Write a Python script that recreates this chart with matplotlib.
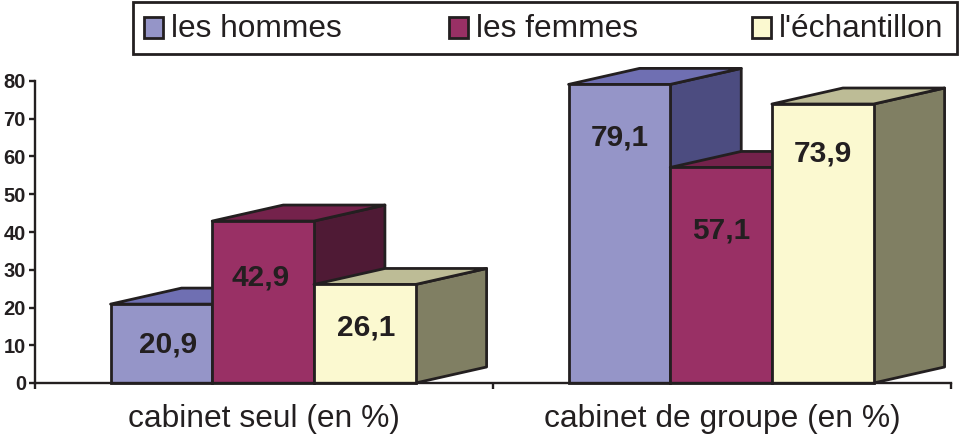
import matplotlib
matplotlib.use("Agg")
import matplotlib.pyplot as plt
from matplotlib.patches import Rectangle

plt.rcParams['font.family'] = ['Liberation Sans', 'DejaVu Sans']

# data
groups = ["cabinet seul (en %)", "cabinet de groupe (en %)"]
series = ["les hommes", "les femmes", "l'échantillon"]
hommes = [20.9, 79.1]
femmes = [42.9, 57.1]
echantillon = [26.1, 73.9]
y_ticks = [0, 10, 20, 30, 40, 50, 60, 70, 80]

# colours: front, top, side
colours = [("#9595C8", "#6F6FB2", "#4C4C80"),
           ("#993065", "#74224B", "#4F1A35"),
           ("#FBF9D0", "#BDBC96", "#807F63")]
INK = "#231F20"

W, H = 961, 434
BAR_W = 0.222
DX = 0.155     # depth of the fake 3d, x units
DY = 4.24      # depth of the fake 3d, y units
LW = 2.0
# where the value label sits relative to the bar top / bar centre, in pixels
label_drop = [[40, 56, 43], [53, 63, 49]]
label_shift = [[6, -3, 1], [-1, -1, -1]]
# legend swatch left edges, in pixels from the left of the figure
legend_x = [144, 449, 752]

fig = plt.figure(figsize=(W / 100, H / 100), dpi=100)
ax = fig.add_axes([35 / W, (H - 383) / H, 916 / W, 302 / H])
ax.set_xlim(-0.5, 1.5)
ax.set_ylim(0, 80)

z = 3
for g in range(len(groups)):
    for s, vals in enumerate([hommes, femmes, echantillon]):
        v = vals[g]
        x0 = g + (s - 1.5) * BAR_W - 0.002
        x1 = x0 + BAR_W
        front, top, side = colours[s]
        # side face, top face, then the front
        ax.fill([x1, x1 + DX, x1 + DX, x1], [0, DY, v + DY, v], facecolor=side,
                edgecolor=INK, linewidth=LW, clip_on=False, zorder=z, joinstyle='round')
        ax.fill([x0, x0 + DX, x1 + DX, x1], [v, v + DY, v + DY, v], facecolor=top,
                edgecolor=INK, linewidth=LW, clip_on=False, zorder=z, joinstyle='round')
        ax.bar(x0, v, BAR_W, align='edge', color=front, edgecolor=INK, linewidth=LW,
               clip_on=False, zorder=z)
        z += 1

for g in range(len(groups)):
    for s, vals in enumerate([hommes, femmes, echantillon]):
        ax.annotate(f"{vals[g]:.1f}".replace(".", ","),
                    (g + (s - 1) * BAR_W, vals[g]),
                    xytext=(label_shift[g][s], -label_drop[g][s]), textcoords='offset pixels',
                    ha='center', va='center', fontsize=21.5, fontweight='bold',
                    color=INK, zorder=50)

for side in ['top', 'right']:
    ax.spines[side].set_visible(False)
for side in ['left', 'bottom']:
    ax.spines[side].set_color(INK)
    ax.spines[side].set_linewidth(1.7)
    ax.spines[side].set_zorder(40)

ax.set_yticks(y_ticks)
ax.tick_params(axis='y', length=4.5, width=1.7, color=INK, pad=2,
               labelsize=14.5, labelcolor=INK)
for lab in ax.get_yticklabels():
    lab.set_fontweight('bold')

ax.set_xticks([0, 1])
ax.set_xticklabels(groups)
ax.set_xticks([-0.5, 0.5, 1.5], minor=True)
ax.tick_params(axis='x', which='major', length=0, pad=15, labelsize=22.9, labelcolor=INK)
ax.tick_params(axis='x', which='minor', length=4.5, width=1.7, color=INK)

# legend drawn by hand, the columns in the original are evenly spaced
fig.add_artist(Rectangle((133 / W, 1 - 54 / H), 824 / W, 52 / H, transform=fig.transFigure,
                         facecolor="white", edgecolor=INK, linewidth=2.0))
for name, c, lx in zip(series, colours, legend_x):
    fig.add_artist(Rectangle((lx / W, 1 - 38 / H), 19 / W, 21 / H, transform=fig.transFigure,
                             facecolor=c[0], edgecolor=INK, linewidth=LW))
    fig.text((lx + 27) / W, 1 - 29 / H, name, fontsize=22.8, color=INK, ha='left', va='center')

fig.savefig("out.png", dpi=100)
